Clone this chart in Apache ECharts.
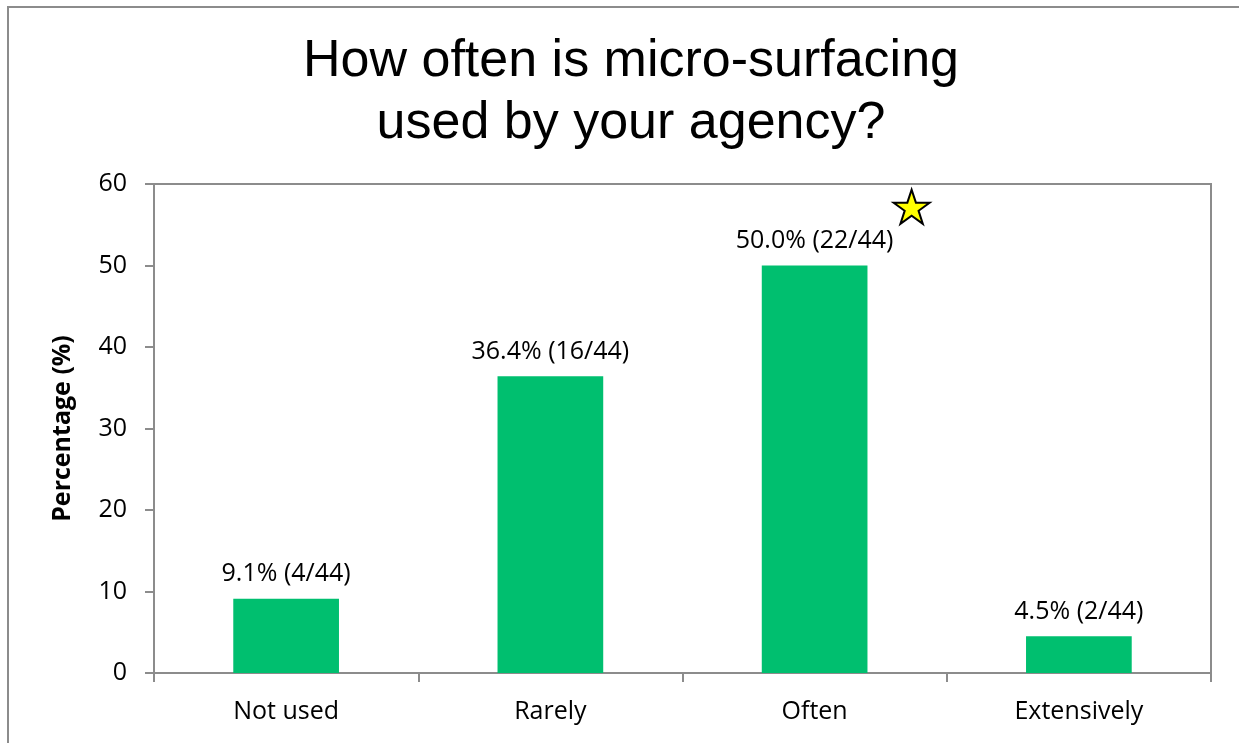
<!DOCTYPE html>
<html>
<head>
<meta charset="utf-8">
<script src="https://cdn.jsdelivr.net/npm/echarts@6/dist/echarts.min.js"></script>
<style>
  html, body { margin: 0; padding: 0; background: #fff; }
  #frame { position: absolute; left: 7px; top: 6px; width: 1240px; height: 745px;
           border-left: 2px solid #8c8c8c; border-top: 2px solid #8c8c8c; box-sizing: border-box; }
  #chart { width: 1239px; height: 743px; position: absolute; left: 0; top: 0; }
</style>
</head>
<body>
<div id="frame"></div>
<div id="chart"></div>
<script>
// Survey responses: how often micro-surfacing is used
const categories = ['Not used', 'Rarely', 'Often', 'Extensively'];
const percentages = [9.1, 36.4, 50.0, 4.5];
const counts = [4, 16, 22, 2];
const totalResponses = 44;
const yTicks = [0, 10, 20, 30, 40, 50, 60];
// Highlight marker placed beside the most common answer
const starCategory = 'Often';
const starValue = 57.2;

const chart = echarts.init(document.getElementById('chart'), null, { renderer: 'canvas' });
const axisGrey = '#8c8c8c';
const labelFont = '"Open Sans", "Noto Sans", sans-serif';

chart.setOption({
  animation: false,
  backgroundColor: 'transparent',
  title: {
    text: 'How often is micro-surfacing\nused by your agency?',
    left: 626,
    textAlign: 'center',
    top: 26,
    textStyle: {
      fontFamily: '"Liberation Sans", Arial, sans-serif',
      fontWeight: 'normal',
      fontSize: 52,
      lineHeight: 62,
      color: '#000'
    }
  },
  grid: { left: 154, right: 28, top: 184, bottom: 70, containLabel: false, show: true,
          borderColor: axisGrey, borderWidth: 2 },
  xAxis: {
    type: 'category',
    data: categories,
    axisLine: { lineStyle: { color: axisGrey, width: 2 } },
    axisTick: { show: true, inside: false, length: 9, lineStyle: { color: axisGrey, width: 2 } },
    axisLabel: { color: '#000', fontFamily: labelFont, fontSize: 25, margin: 26 }
  },
  yAxis: {
    type: 'value',
    min: 0, max: 60, interval: 10,
    name: 'Percentage (%)',
    nameLocation: 'middle',
    nameGap: 79,
    nameTextStyle: { fontFamily: labelFont, fontWeight: 'bold', fontSize: 25, color: '#000' },
    splitLine: { show: false },
    axisLine: { show: true, lineStyle: { color: axisGrey, width: 2 } },
    axisTick: { show: true, length: 9, lineStyle: { color: axisGrey, width: 2 } },
    axisLabel: { color: '#000', fontFamily: labelFont, fontSize: 25, margin: 27,
                 formatter: v => yTicks.includes(v) ? String(v) : '' }
  },
  series: [{
    type: 'bar',
    data: percentages,
    barWidth: '40%',
    itemStyle: { color: '#00BF6F' },
    label: {
      show: true,
      position: 'top',
      distance: 12,
      color: '#000',
      fontFamily: labelFont,
      fontSize: 25,
      formatter: p => percentages[p.dataIndex].toFixed(1) + '% (' + counts[p.dataIndex] + '/' + totalResponses + ')'
    },
    markPoint: {
      silent: true,
      symbol: 'path://M50,0 L61.8,35.3 L99,35.3 L68.9,57.1 L80.4,92.4 L50,70.6 L19.6,92.4 L31.1,57.1 L1,35.3 L38.2,35.3 Z',
      symbolSize: [36, 34],
      symbolOffset: [97, 0],
      itemStyle: { color: '#FFFF00', borderColor: '#000', borderWidth: 2 },
      label: { show: false },
      data: [{ coord: [starCategory, starValue] }]
    }
  }]
});
</script>
</body>
</html>
